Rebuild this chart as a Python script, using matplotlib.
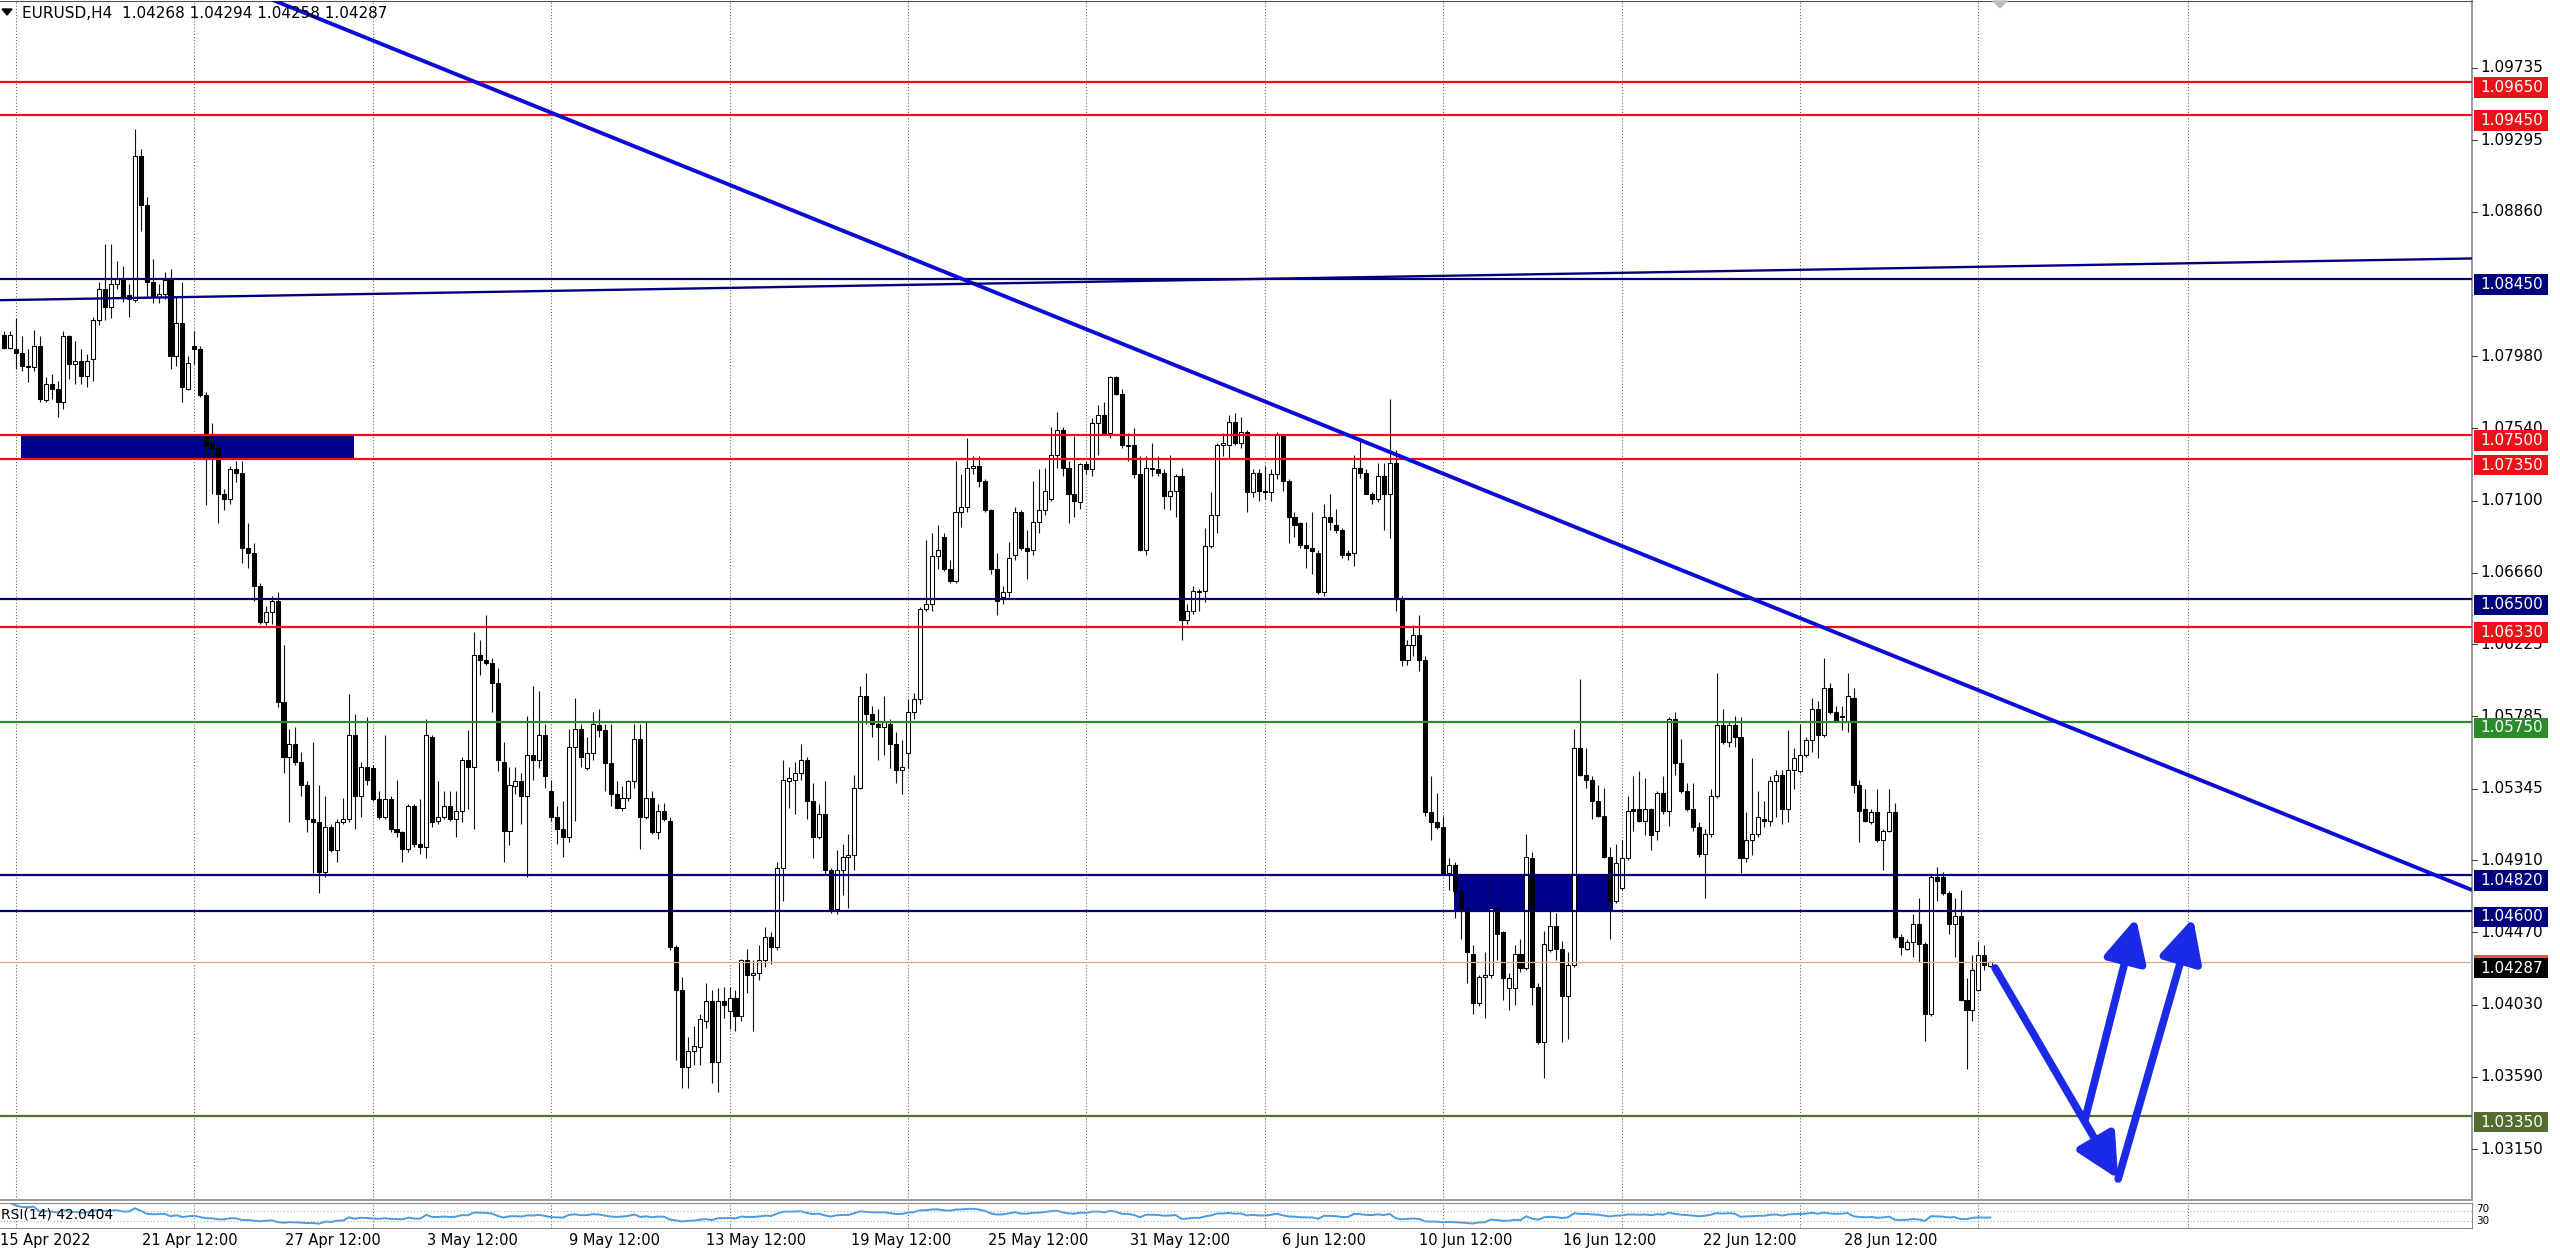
import numpy as np
import pandas as pd
import matplotlib
matplotlib.use("Agg")
import matplotlib.pyplot as plt
from matplotlib.patches import Rectangle, Polygon
from matplotlib import transforms

# EURUSD H4 candles, prices in pips (price * 10000), bar 0 = left edge
opens = [
    10811, 10803, 10802, 10800, 10792, 10791, 10804, 10771, 10781, 10778,
    10770, 10810, 10793, 10795, 10786, 10796, 10820, 10839, 10828, 10842,
    10845, 10835, 10832, 10920, 10890, 10843, 10834, 10836, 10845, 10798,
    10818, 10778, 10804, 10802, 10774, 10745, 10742, 10714, 10711, 10729,
    10727, 10681, 10678, 10658, 10636, 10642, 10649, 10587, 10554, 10562,
    10551, 10537, 10516, 10514, 10484, 10511, 10497, 10514, 10516, 10567,
    10530, 10548, 10547, 10528, 10517, 10528, 10510, 10508, 10498, 10524,
    10501, 10499, 10566, 10515, 10517, 10524, 10516, 10521, 10552, 10548,
    10616, 10613, 10611, 10599, 10551, 10509, 10536, 10539, 10530, 10555,
    10552, 10567, 10533, 10517, 10510, 10505, 10560, 10571, 10547, 10556,
    10573, 10570, 10550, 10531, 10523, 10529, 10539, 10565, 10517, 10529,
    10508, 10521, 10515, 10438, 10412, 10365, 10375, 10377, 10393, 10405,
    10368, 10405, 10399, 10407, 10396, 10430, 10421, 10422, 10430, 10444,
    10438, 10486, 10539, 10540, 10544, 10552, 10527, 10505, 10519, 10485,
    10461, 10485, 10493, 10494, 10535, 10591, 10580, 10574, 10572, 10574,
    10562, 10546, 10556, 10581, 10589, 10644, 10647, 10676, 10688, 10668,
    10661, 10703, 10706, 10730, 10731, 10722, 10704, 10668, 10651, 10654,
    10677, 10703, 10681, 10680, 10697, 10704, 10711, 10738, 10753, 10730,
    10714, 10709, 10732, 10729, 10757, 10762, 10751, 10785, 10775, 10744,
    10744, 10726, 10680, 10729, 10729, 10727, 10713, 10716, 10725, 10637,
    10643, 10654, 10655, 10682, 10701, 10744, 10744, 10758, 10745, 10752,
    10715, 10727, 10716, 10715, 10726, 10749, 10722, 10700, 10696, 10683,
    10681, 10678, 10654, 10700, 10695, 10692, 10678, 10678, 10730, 10727,
    10714, 10711, 10725, 10714, 10733, 10650, 10613, 10622, 10628, 10613,
    10520, 10514, 10511, 10483, 10488, 10472, 10462, 10434, 10404, 10420,
    10421, 10462, 10447, 10413, 10413, 10434, 10425, 10492, 10414, 10380,
    10436, 10451, 10437, 10408, 10427, 10559, 10543, 10540, 10527, 10518,
    10493, 10466, 10474, 10492, 10522, 10522, 10515, 10522, 10509, 10532,
    10521, 10577, 10550, 10533, 10522, 10511, 10495, 10507, 10530, 10573,
    10563, 10573, 10566, 10492, 10503, 10507, 10516, 10515, 10539, 10543,
    10522, 10546, 10545, 10555, 10564, 10583, 10567, 10596, 10581, 10579,
    10576, 10590, 10537, 10522, 10514, 10520, 10503, 10509, 10520, 10444,
    10437, 10441, 10452, 10440, 10397, 10481, 10481, 10471, 10452, 10457,
    10406, 10400, 10412, 10433, 10426.8,
]
highs = [
    10813, 10813, 10821, 10810, 10802, 10814, 10810, 10785, 10787, 10783,
    10813, 10811, 10807, 10802, 10799, 10822, 10843, 10866, 10866, 10856,
    10853, 10842, 10936, 10924, 10895, 10857, 10842, 10849, 10851, 10834,
    10843, 10798, 10813, 10804, 10776, 10757, 10743, 10717, 10731, 10734,
    10734, 10696, 10684, 10660, 10646, 10652, 10654, 10622, 10571, 10572,
    10557, 10539, 10563, 10537, 10530, 10513, 10516, 10529, 10592, 10580,
    10551, 10578, 10549, 10533, 10567, 10530, 10540, 10509, 10525, 10525,
    10528, 10577, 10567, 10539, 10533, 10533, 10533, 10554, 10570, 10630,
    10625, 10640, 10614, 10608, 10563, 10548, 10548, 10544, 10579, 10597,
    10594, 10574, 10540, 10524, 10527, 10571, 10590, 10574, 10566, 10581,
    10583, 10574, 10574, 10539, 10536, 10540, 10574, 10574, 10575, 10533,
    10525, 10526, 10517, 10439, 10420, 10383, 10390, 10397, 10416, 10412,
    10413, 10414, 10414, 10412, 10431, 10437, 10430, 10439, 10450, 10447,
    10490, 10552, 10548, 10551, 10562, 10554, 10538, 10525, 10539, 10486,
    10497, 10501, 10507, 10543, 10597, 10605, 10585, 10583, 10591, 10577,
    10569, 10564, 10589, 10593, 10645, 10686, 10690, 10695, 10690, 10674,
    10734, 10726, 10748, 10737, 10737, 10723, 10705, 10678, 10658, 10685,
    10706, 10704, 10692, 10722, 10729, 10730, 10755, 10764, 10755, 10734,
    10749, 10733, 10734, 10760, 10768, 10770, 10786, 10786, 10778, 10751,
    10754, 10737, 10737, 10745, 10737, 10729, 10738, 10726, 10730, 10647,
    10658, 10656, 10693, 10715, 10745, 10751, 10762, 10763, 10761, 10753,
    10729, 10729, 10731, 10729, 10752, 10750, 10723, 10703, 10697, 10697,
    10703, 10680, 10708, 10714, 10705, 10693, 10680, 10738, 10748, 10729,
    10715, 10733, 10733, 10772, 10741, 10652, 10625, 10634, 10640, 10615,
    10542, 10532, 10518, 10492, 10490, 10474, 10465, 10439, 10421, 10435,
    10482, 10462, 10448, 10422, 10439, 10443, 10507, 10496, 10416, 10448,
    10462, 10459, 10442, 10435, 10571, 10601, 10559, 10542, 10537, 10535,
    10499, 10501, 10503, 10530, 10542, 10545, 10541, 10523, 10533, 10542,
    10578, 10581, 10565, 10538, 10538, 10514, 10510, 10534, 10605, 10583,
    10575, 10579, 10578, 10520, 10553, 10533, 10527, 10542, 10546, 10546,
    10570, 10559, 10574, 10566, 10590, 10588, 10614, 10599, 10585, 10585,
    10605, 10596, 10540, 10534, 10522, 10534, 10510, 10534, 10526, 10446,
    10443, 10458, 10468, 10441, 10482, 10487, 10484, 10472, 10468, 10473,
    10419, 10433, 10442, 10439, 10429.4,
]
lows = [
    10802, 10802, 10790, 10789, 10782, 10789, 10770, 10770, 10772, 10761,
    10766, 10784, 10781, 10781, 10779, 10783, 10817, 10820, 10821, 10839,
    10831, 10822, 10831, 10874, 10834, 10830, 10830, 10833, 10790, 10792,
    10770, 10777, 10793, 10773, 10707, 10714, 10696, 10704, 10708, 10721,
    10672, 10669, 10649, 10635, 10634, 10635, 10584, 10544, 10514, 10549,
    10530, 10508, 10483, 10471, 10481, 10496, 10490, 10513, 10514, 10510,
    10517, 10537, 10527, 10516, 10516, 10508, 10505, 10490, 10496, 10499,
    10495, 10492, 10511, 10513, 10516, 10515, 10505, 10514, 10522, 10510,
    10604, 10610, 10581, 10545, 10490, 10500, 10531, 10513, 10481, 10540,
    10547, 10535, 10515, 10501, 10493, 10502, 10515, 10548, 10546, 10552,
    10566, 10533, 10524, 10522, 10521, 10527, 10535, 10498, 10516, 10507,
    10504, 10515, 10436, 10369, 10352, 10352, 10366, 10366, 10389, 10355,
    10350, 10395, 10388, 10387, 10393, 10410, 10387, 10418, 10426, 10428,
    10436, 10466, 10523, 10519, 10540, 10516, 10492, 10504, 10482, 10459,
    10458, 10470, 10462, 10485, 10534, 10574, 10566, 10552, 10555, 10547,
    10538, 10531, 10547, 10577, 10586, 10643, 10643, 10668, 10667, 10660,
    10660, 10694, 10703, 10726, 10718, 10703, 10665, 10640, 10647, 10651,
    10674, 10680, 10662, 10677, 10690, 10701, 10710, 10730, 10725, 10696,
    10700, 10705, 10726, 10725, 10738, 10751, 10748, 10774, 10742, 10734,
    10724, 10679, 10677, 10725, 10725, 10705, 10704, 10700, 10625, 10635,
    10641, 10643, 10648, 10681, 10690, 10737, 10735, 10744, 10742, 10703,
    10712, 10710, 10711, 10710, 10723, 10716, 10684, 10688, 10681, 10669,
    10665, 10653, 10652, 10692, 10690, 10675, 10674, 10670, 10724, 10714,
    10708, 10709, 10692, 10687, 10643, 10609, 10610, 10615, 10606, 10518,
    10503, 10510, 10482, 10473, 10456, 10443, 10416, 10397, 10402, 10395,
    10419, 10430, 10406, 10400, 10403, 10423, 10424, 10403, 10379, 10358,
    10435, 10430, 10380, 10382, 10426, 10542, 10535, 10516, 10517, 10492,
    10443, 10465, 10473, 10491, 10509, 10514, 10506, 10497, 10503, 10519,
    10512, 10543, 10532, 10521, 10509, 10493, 10468, 10505, 10529, 10562,
    10560, 10560, 10483, 10490, 10494, 10505, 10511, 10512, 10517, 10513,
    10514, 10534, 10544, 10554, 10557, 10553, 10566, 10580, 10575, 10570,
    10569, 10532, 10502, 10514, 10513, 10502, 10485, 10508, 10443, 10433,
    10436, 10432, 10429, 10381, 10396, 10466, 10470, 10446, 10432, 10405,
    10364, 10393, 10411, 10424, 10425.8,
]
closes = [
    10803, 10811, 10800, 10792, 10791, 10804, 10772, 10781, 10778, 10770,
    10810, 10793, 10795, 10786, 10795, 10820, 10839, 10828, 10842, 10845,
    10834, 10833, 10920, 10890, 10843, 10834, 10836, 10844, 10798, 10818,
    10779, 10794, 10802, 10774, 10743, 10742, 10714, 10711, 10729, 10727,
    10681, 10678, 10658, 10636, 10642, 10649, 10587, 10554, 10562, 10551,
    10537, 10516, 10514, 10484, 10511, 10497, 10514, 10516, 10567, 10530,
    10548, 10540, 10528, 10517, 10528, 10510, 10508, 10498, 10524, 10501,
    10499, 10567, 10514, 10517, 10524, 10516, 10521, 10552, 10548, 10616,
    10613, 10611, 10599, 10552, 10509, 10537, 10539, 10530, 10555, 10552,
    10567, 10542, 10517, 10510, 10505, 10560, 10571, 10554, 10556, 10574,
    10570, 10550, 10531, 10523, 10529, 10539, 10565, 10517, 10529, 10508,
    10521, 10516, 10438, 10412, 10365, 10375, 10378, 10394, 10405, 10368,
    10405, 10403, 10407, 10396, 10430, 10421, 10422, 10430, 10444, 10438,
    10486, 10540, 10541, 10544, 10552, 10527, 10505, 10519, 10485, 10460,
    10485, 10493, 10494, 10535, 10591, 10580, 10574, 10572, 10575, 10562,
    10546, 10548, 10581, 10589, 10644, 10647, 10676, 10680, 10668, 10661,
    10703, 10706, 10730, 10731, 10722, 10704, 10668, 10649, 10654, 10675,
    10703, 10681, 10679, 10697, 10704, 10716, 10738, 10753, 10730, 10714,
    10710, 10732, 10729, 10757, 10762, 10751, 10785, 10775, 10744, 10743,
    10726, 10680, 10730, 10730, 10727, 10713, 10716, 10725, 10637, 10643,
    10655, 10655, 10682, 10701, 10744, 10745, 10758, 10745, 10752, 10715,
    10727, 10716, 10715, 10726, 10750, 10722, 10700, 10695, 10683, 10681,
    10679, 10654, 10700, 10697, 10692, 10677, 10677, 10730, 10727, 10714,
    10711, 10725, 10714, 10733, 10651, 10613, 10622, 10628, 10613, 10520,
    10514, 10511, 10483, 10488, 10472, 10462, 10435, 10404, 10420, 10421,
    10462, 10446, 10419, 10419, 10434, 10425, 10493, 10414, 10380, 10440,
    10451, 10437, 10408, 10427, 10559, 10543, 10540, 10527, 10518, 10493,
    10466, 10489, 10492, 10521, 10521, 10515, 10522, 10506, 10532, 10521,
    10577, 10550, 10533, 10522, 10511, 10495, 10507, 10530, 10573, 10563,
    10573, 10566, 10492, 10503, 10507, 10517, 10515, 10539, 10543, 10522,
    10546, 10553, 10555, 10564, 10583, 10567, 10596, 10581, 10576, 10578,
    10591, 10537, 10521, 10515, 10520, 10503, 10509, 10520, 10444, 10438,
    10441, 10452, 10440, 10397, 10481, 10478, 10471, 10452, 10457, 10406,
    10400, 10424, 10433, 10427, 10428.7,
]

# horizontal levels drawn on the chart
level_prices = [1.0965, 1.0945, 1.0845, 1.0750, 1.0735, 1.0650, 1.0633, 1.0575, 1.0482, 1.0460, 1.0335]
level_kinds = ["red", "red", "navy", "red", "red", "navy", "red", "green", "navy", "navy", "olive"]
last_price = 1.04287

axis_ticks = [1.09735, 1.09295, 1.08860, 1.07980, 1.07540, 1.07100, 1.06660, 1.06225,
              1.05785, 1.05345, 1.04910, 1.04470, 1.04030, 1.03590, 1.03150]

date_labels = ["15 Apr 2022", "21 Apr 12:00", "27 Apr 12:00", "3 May 12:00", "9 May 12:00",
               "13 May 12:00", "19 May 12:00", "25 May 12:00", "31 May 12:00", "6 Jun 12:00",
               "10 Jun 12:00", "16 Jun 12:00", "22 Jun 12:00", "28 Jun 12:00"]
date_bars = [0, 31.3, 55.3, 78.7, 102.6, 126.4, 150.8, 173.9, 197.7, 222.0, 245.8, 270.0, 293.6, 317.3]

# grid columns (bar index)
grid_bars = [2, 32, 62, 92, 122, 152, 182, 212, 242, 272, 302, 332, 367.2]

# zones (bar from, bar to, price low, price high)
zones = [(2.9, 58.9, 1.0735, 1.0750), (243.8, 270.5, 1.0460, 1.0482)]
# trend lines (bar, price) pairs
down_trend = [(45.2, 1.10148), (415.0, 1.04728)]
channel_line = [(-0.67, 1.08320), (415.0, 1.08574)]
# forecast arrows (bar, price) start -> end
arrows = [((334.8, 1.04253), (355.5, 1.02968)),
          ((349.9, 1.03327), (358.5, 1.04557)),
          ((355.5, 1.02968), (368.1, 1.04557))]

COLORS = {"red": "#ec1018", "navy": "#00007f", "green": "#2b8c2b", "olive": "#556b2f"}

W, H = 2560, 1255
fig = plt.figure(figsize=(W / 100, H / 100), dpi=100)
fig.patch.set_facecolor("white")

def fx(px):
    return px / W

def fy(py):
    return 1 - py / H

ax = fig.add_axes([0, fy(1200), fx(2472), (1199) / H])
rsi_ax = fig.add_axes([0, fy(1228), fx(2472), 25 / H])

x0, x1 = -0.6726, 415.0
ax.set_xlim(x0, x1)
ax.set_ylim(1.02840, 1.10142)

o = np.array(opens) / 10000
h = np.array(highs) / 10000
l = np.array(lows) / 10000
c = np.array(closes) / 10000
idx = np.arange(len(c))

# grid (vertical dotted)
for g in grid_bars:
    ax.axvline(g, color="#5a5a5a", lw=0.75, ls=(0, (1, 2)), zorder=0)
    rsi_ax.axvline(g, color="#5a5a5a", lw=0.75, ls=(0, (1, 2)), zorder=0)

# zones behind candles
for a, b, lo, hi in zones:
    ax.add_patch(Rectangle((a, lo), b - a, hi - lo, color="#00008b", lw=0, zorder=1))

# candles
ax.vlines(idx, l, h, color="#111111", lw=0.8, zorder=2)
up = c >= o
bw = 0.68
ax.bar(idx[up], (c - o)[up], bottom=o[up], width=bw, color="white", edgecolor="black", lw=0.75, zorder=3)
ax.bar(idx[~up], (o - c)[~up], bottom=c[~up], width=bw, color="black", edgecolor="black", lw=0.75, zorder=3)

# levels
for p, k in zip(level_prices, level_kinds):
    ax.axhline(p, color=COLORS[k], lw=1.6, zorder=4)
ax.axhline(last_price, color="#e8a890", lw=0.9, zorder=4)

# trend lines
ax.plot([down_trend[0][0], down_trend[1][0]], [down_trend[0][1], down_trend[1][1]],
        color="#0c0cd6", lw=2.8, zorder=5, solid_capstyle="butt")
ax.plot([channel_line[0][0], channel_line[1][0]], [channel_line[0][1], channel_line[1][1]],
        color="#00007f", lw=1.7, zorder=5)

# forecast arrows
for (sx, sy), (ex, ey) in arrows:
    ax.annotate("", xy=(ex, ey), xytext=(sx, sy),
                arrowprops=dict(arrowstyle="-|>,head_length=1.0,head_width=0.5", color="#1a2ae6",
                                lw=5.5, mutation_scale=26, shrinkA=0, shrinkB=0), zorder=6)

ax.spines["left"].set_visible(False)
ax.spines["top"].set_color("#505050")
ax.spines["right"].set_color("#9a9a9a")
ax.spines["right"].set_linewidth(1.4)
ax.spines["bottom"].set_color("#9a9a9a")
ax.spines["bottom"].set_linewidth(1.4)
ax.set_xticks([])
ax.set_yticks([])

# price axis labels
ytr = transforms.blended_transform_factory(fig.transFigure, ax.transData)
ppx = (ax.get_ylim()[1] - ax.get_ylim()[0]) / 1199.0
for t in axis_ticks:
    ax.plot([fx(2472), fx(2477)], [t, t], color="#444444", lw=0.8, transform=ytr, clip_on=False, zorder=7)
    ax.text(fx(2480), t, f"{t:.5f}", transform=ytr, fontsize=11, color="black",
            va="center", ha="left", clip_on=False, zorder=7)

def price_box(p, color, text_color="white"):
    top = p + 4.5 * ppx
    bot = p - 16 * ppx
    ax.add_patch(Rectangle((fx(2474), bot), fx(74), top - bot, transform=ytr,
                           color=color, lw=0, clip_on=False, zorder=8))
    ax.text(fx(2480), (top + bot) / 2, f"{p:.5f}", transform=ytr, fontsize=11,
            color=text_color, va="center", ha="left", clip_on=False, zorder=9)

for p, k in zip(level_prices, level_kinds):
    price_box(p, COLORS[k])
price_box(last_price, "black")
ax.add_patch(Rectangle((fx(2474), last_price + 4.5 * ppx), fx(74), 2.5 * ppx, transform=ytr,
                       color="#f05a20", lw=0, clip_on=False, zorder=9))

# RSI(14)
delta = pd.Series(c).diff()
gain = delta.clip(lower=0).ewm(alpha=1 / 14, adjust=False).mean()
loss = (-delta.clip(upper=0)).ewm(alpha=1 / 14, adjust=False).mean()
rsi = 100 - 100 / (1 + gain / loss)
rsi_ax.plot(idx[1:], rsi.values[1:], color="#4b9be0", lw=1.4)
rsi_ax.set_xlim(x0, x1)
rsi_ax.set_ylim(0, 100)
for lv in (70, 30):
    rsi_ax.axhline(lv, color="#b0b0b0", lw=0.8, ls=(0, (1, 2)))
rsi_ax.set_xticks([])
rsi_ax.set_yticks([])
rsi_ax.spines["left"].set_visible(False)
for s in ["top", "right", "bottom"]:
    rsi_ax.spines[s].set_color("#8a8a8a")
rsi_ax.text(0.0004, 0.55, "RSI(14) 42.0404", transform=rsi_ax.transAxes, fontsize=10,
            va="center", ha="left", color="black")
fig.text(fx(2476), fy(1209.5), "70", fontsize=7.5, va="center", ha="left")
fig.text(fx(2476), fy(1221.5), "30", fontsize=7.5, va="center", ha="left")

# time axis labels
for lab, b in zip(date_labels, date_bars):
    xp = 4 + 5.947 * b
    if b == 0:
        fig.text(fx(0), fy(1241), lab, fontsize=10.5, va="center", ha="left")
    else:
        fig.text(fx(xp), fy(1241), lab, fontsize=10.5, va="center", ha="center")

# header
fig.text(fx(22), fy(13), "EURUSD,H4  1.04268 1.04294 1.04258 1.04287", fontsize=11,
         va="center", ha="left")
fig.patches.append(Polygon([[fx(2), fy(9)], [fx(12), fy(9)], [fx(7), fy(15)]],
                           closed=True, color="black", transform=fig.transFigure))
fig.patches.append(Polygon([[fx(1993), fy(1)], [fx(2007), fy(1)], [fx(2000), fy(8)]],
                           closed=True, color="#bdbdbd", transform=fig.transFigure))

fig.savefig("out.png", dpi=100, facecolor="white")
